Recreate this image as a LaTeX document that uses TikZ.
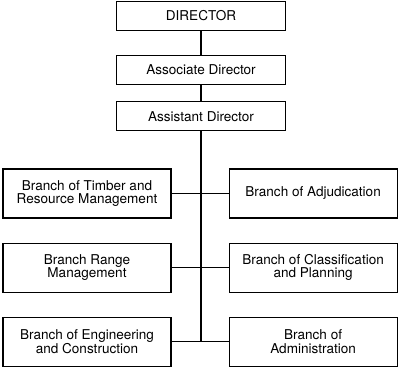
\documentclass[tikz,border=0pt]{standalone}
\usepackage{fontspec}
\setmainfont{TeX Gyre Heros}
\usetikzlibrary{positioning}

\begin{document}
\begin{tikzpicture}[
  x=1bp, y=1bp,
  node distance=24bp and 57bp,
  every node/.style={font=\fontsize{13.6}{13.6}\selectfont},
  topbox/.style={draw, line width=1.1pt, minimum width=169bp, minimum height=29bp, inner sep=0pt},
  branch/.style={draw, line width=1.1pt, minimum width=168bp, minimum height=49bp, inner sep=0pt, align=center},
  link/.style={line width=1.1pt},
]
\useasboundingbox (0,0) rectangle (400,-367);
\node[topbox] (dir) at (201,-16) {DIRECTOR};
\node[topbox, below=24bp of dir] (assoc) {Associate Director};
\node[topbox, below=16bp of assoc] (asst) {Assistant Director};

\node[branch] (timber) at (87,-193.5) {Branch of Timber and\\ Resource Management};
\node[branch, right=of timber] (adj) {Branch of Adjudication};
\node[branch, below=of timber] (range) {Branch Range\\ Management};
\node[branch, right=of range] (classif) {Branch of Classification\\ and Planning};
\node[branch, below=of range] (eng) {Branch of Engineering\\ and Construction};
\node[branch, right=of eng] (admin) {Branch of\\ Administration};

\coordinate (spine) at (asst |- eng);
\draw[link] (dir) -- (assoc);
\draw[link] (assoc) -- (asst);
\draw[link] (asst) -- (spine);
\draw[link] (timber) -- (adj);
\draw[link] (range) -- (classif);
\draw[link] (eng) -- (admin);
\end{tikzpicture}
\end{document}
